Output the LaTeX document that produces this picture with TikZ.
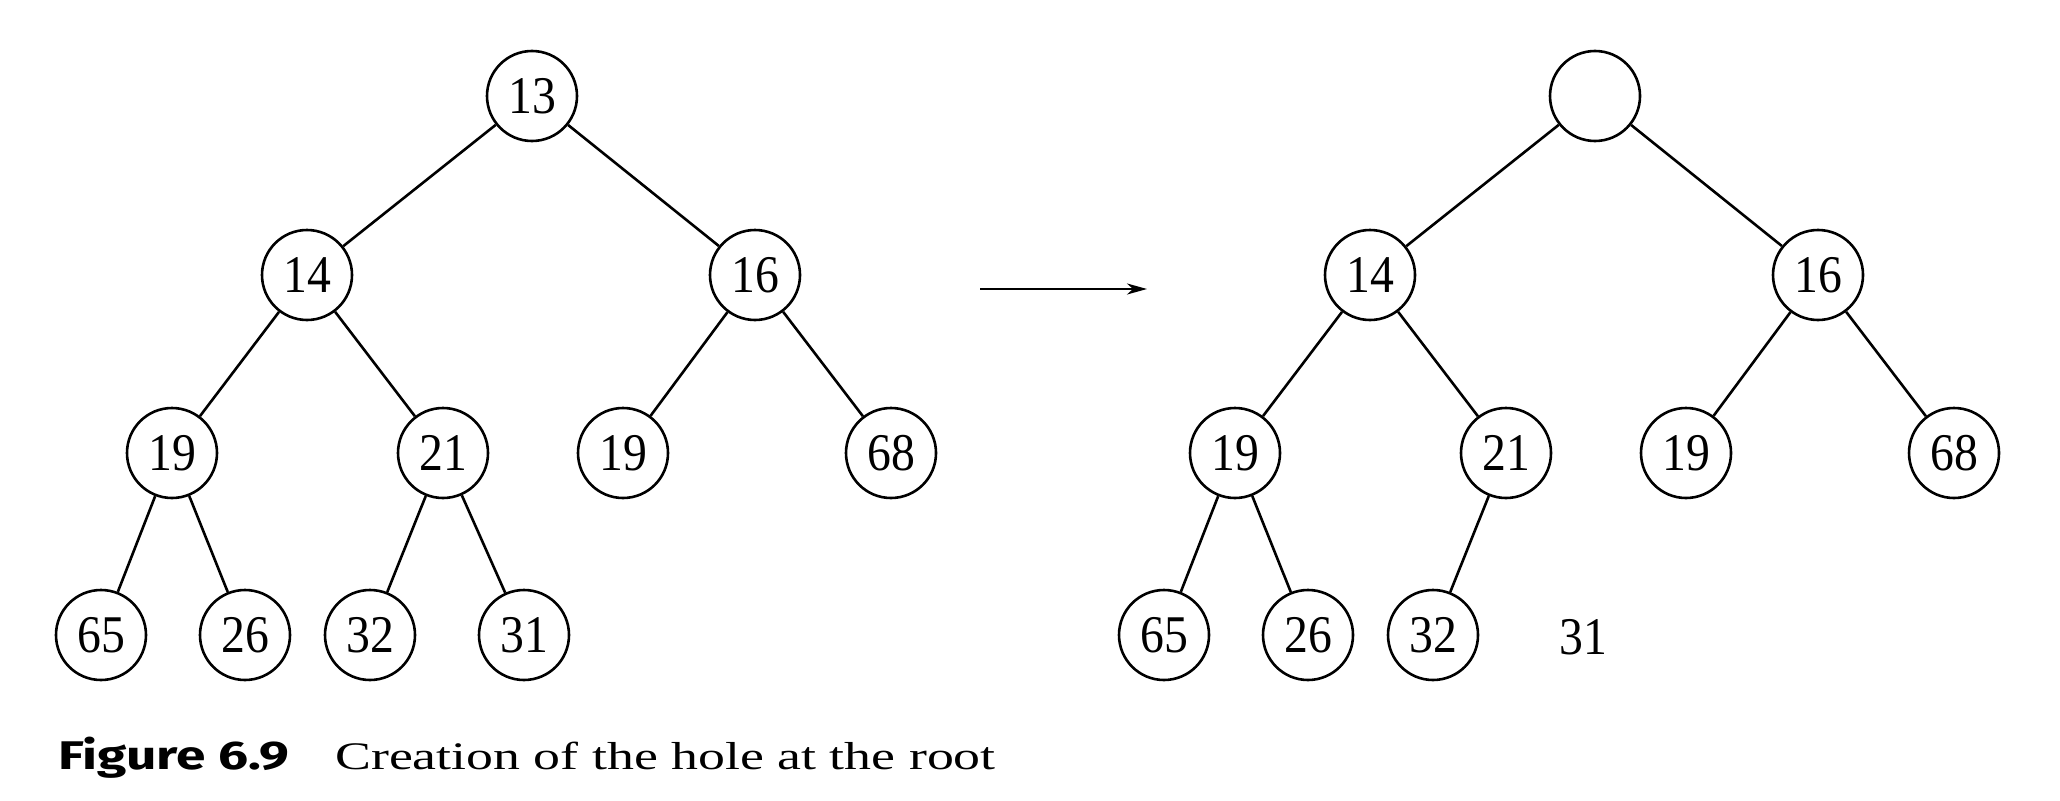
\documentclass[tikz,border=0pt]{standalone}
\usepackage{fontspec}
\setmainfont{Liberation Serif}
\newfontfamily\keyfont[FakeStretch=0.9]{Liberation Serif}
\newfontfamily\capfont[FakeStretch=1.38]{Liberation Serif}
\newfontfamily\labfont[FakeStretch=1.33]{Fira Sans}
\usetikzlibrary{arrows.meta}
\tikzset{
  heapnode/.style={circle, draw, line width=2.6pt, minimum size=90pt, inner sep=0pt,
    font=\keyfont\fontsize{53}{53}\selectfont},
  loose/.style={inner sep=0pt, font=\keyfont\fontsize{53}{53}\selectfont},
  edge/.style={line width=2.6pt},
}
\begin{document}
\begin{tikzpicture}[x=1pt,y=-1pt]
\useasboundingbox (0,0) rectangle (2060,800);

% heap before the removal
\node[heapnode] (r)   at (532,96)  {13};
\node[heapnode] (a)   at (307,275) {14};
\node[heapnode] (b)   at (755,275) {16};
\node[heapnode] (c)   at (172,453) {19};
\node[heapnode] (d)   at (443,453) {21};
\node[heapnode] (e)   at (623,453) {19};
\node[heapnode] (f)   at (891,453) {68};
\node[heapnode] (g)   at (101,635) {65};
\node[heapnode] (h)   at (245,635) {26};
\node[heapnode] (i)   at (370,635) {32};
\node[heapnode] (j)   at (524,635) {31};
\draw[edge] (r) -- (a) (r) -- (b) (a) -- (c) (a) -- (d) (b) -- (e) (b) -- (f)
            (c) -- (g) (c) -- (h) (d) -- (i) (d) -- (j);

% transition arrow
\coordinate (p) at (980,289);
\coordinate (q) at (1147,289);
\draw[line width=2.3pt, -{Stealth[length=20pt,width=11pt,inset=6pt]}] (p) -- (q);

% heap with the hole at the root
\node[heapnode] (R)   at (1595,96)  {};
\node[heapnode] (A)   at (1370,275) {14};
\node[heapnode] (B)   at (1818,275) {16};
\node[heapnode] (C)   at (1235,453) {19};
\node[heapnode] (D)   at (1506,453) {21};
\node[heapnode] (E)   at (1686,453) {19};
\node[heapnode] (F)   at (1954,453) {68};
\node[heapnode] (G)   at (1164,635) {65};
\node[heapnode] (H)   at (1308,635) {26};
\node[heapnode] (I)   at (1433,635) {32};
\node[loose]    (J)   at (1583,637) {31};
\draw[edge] (R) -- (A) (R) -- (B) (A) -- (C) (A) -- (D) (B) -- (E) (B) -- (F)
            (C) -- (G) (C) -- (H) (D) -- (I);

% caption
\node[anchor=base west, inner sep=0pt, font=\labfont\bfseries\fontsize{40}{40}\selectfont]
  (lab) at (58,769) {Figure 6.9};
\node[anchor=base west, inner sep=0pt, font=\capfont\fontsize{39}{39}\selectfont]
  (cap) at (335,769) {Creation of the hole at the root};
\end{tikzpicture}
\end{document}
